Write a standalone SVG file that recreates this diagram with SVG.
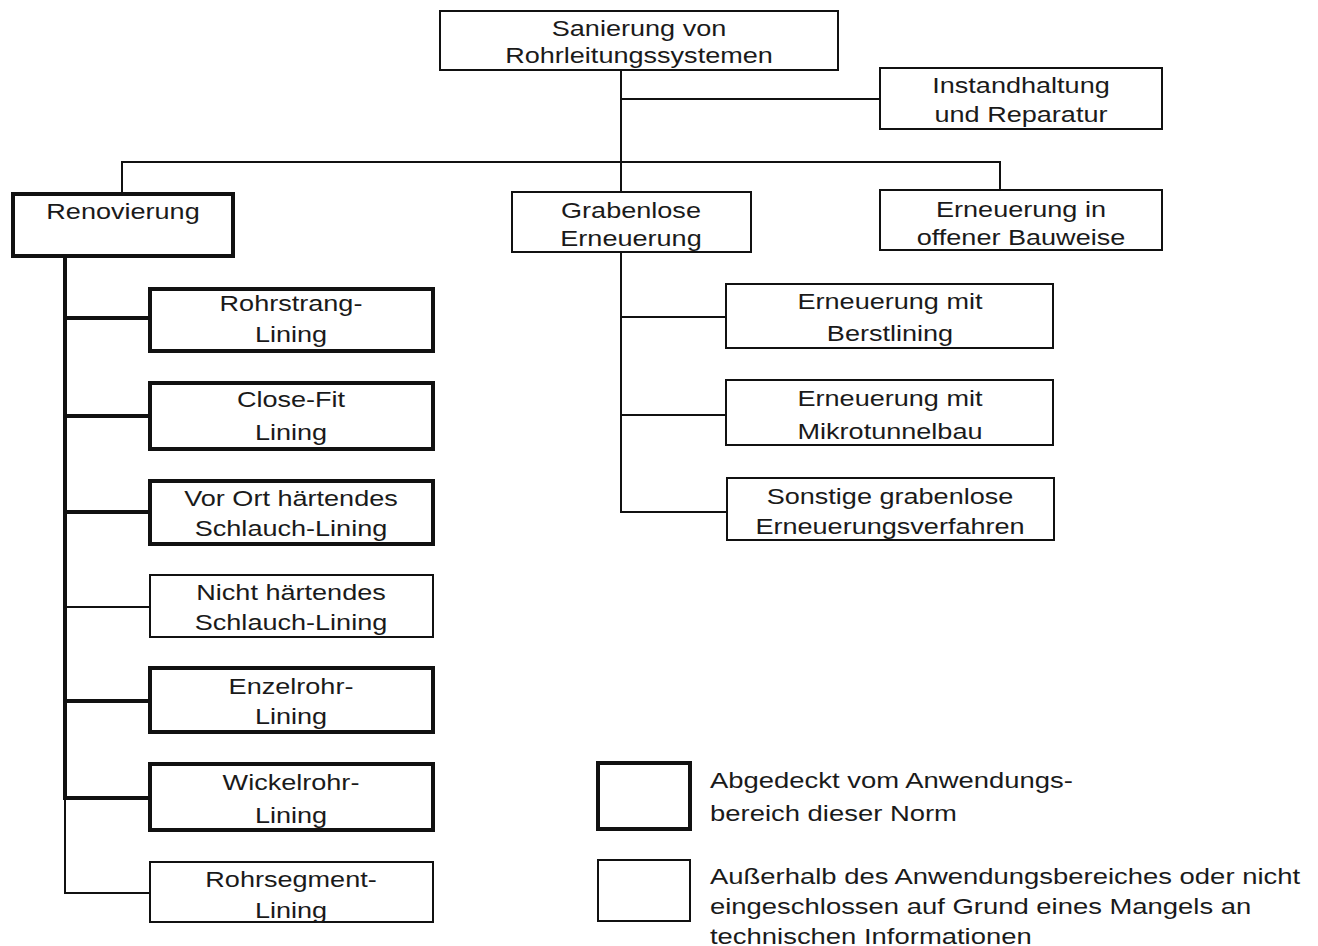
<svg xmlns="http://www.w3.org/2000/svg" width="1318" height="946" viewBox="0 0 1318 946">
<style>
rect{fill:#fff;stroke:#111}
.thin{stroke-width:2}
.thick{stroke-width:4}
text{font-family:"Liberation Sans",Arial,sans-serif;font-size:22px;fill:#1a1a1a;text-anchor:middle}
.l text{text-anchor:start}
line{stroke:#111;stroke-linecap:square}
</style>
<rect x="0" y="0" width="1318" height="946" style="fill:#fff;stroke:none"/>
<g id="connectors">
<line x1="621" y1="70" x2="621" y2="192" class="thin"/>
<line x1="621" y1="99" x2="880" y2="99" class="thin"/>
<line x1="122" y1="162" x2="1000" y2="162" class="thin"/>
<line x1="122" y1="162" x2="122" y2="194" class="thin"/>
<line x1="1000" y1="162" x2="1000" y2="190" class="thin"/>
<line x1="621" y1="252" x2="621" y2="512" class="thin"/>
<line x1="621" y1="317" x2="726" y2="317" class="thin"/>
<line x1="621" y1="415" x2="726" y2="415" class="thin"/>
<line x1="621" y1="512" x2="727" y2="512" class="thin"/>
<line x1="65" y1="256" x2="65" y2="798" class="thick"/>
<line x1="65" y1="798" x2="65" y2="893" class="thin"/>
<line x1="65" y1="318" x2="150" y2="318" class="thick"/>
<line x1="65" y1="416" x2="150" y2="416" class="thick"/>
<line x1="65" y1="512" x2="150" y2="512" class="thick"/>
<line x1="65" y1="607" x2="150" y2="607" class="thin"/>
<line x1="65" y1="701" x2="150" y2="701" class="thick"/>
<line x1="65" y1="798" x2="150" y2="798" class="thick"/>
<line x1="65" y1="893" x2="150" y2="893" class="thin"/>
</g>
<g id="n-sanierung"><rect x="440" y="11" width="398" height="59" class="thin"/><g transform="translate(639,0) scale(1.23,1)"><text x="0" y="36">Sanierung von</text><text x="0" y="63">Rohrleitungssystemen</text></g></g>
<g id="n-instandhaltung"><rect x="880" y="68" width="282" height="61" class="thin"/><g transform="translate(1021,0) scale(1.23,1)"><text x="0" y="93">Instandhaltung</text><text x="0" y="122">und Reparatur</text></g></g>
<g id="n-renovierung"><rect x="13" y="194" width="220" height="62" class="thick"/><g transform="translate(123,0) scale(1.23,1)"><text x="0" y="219">Renovierung</text></g></g>
<g id="n-grabenlose"><rect x="512" y="192" width="239" height="60" class="thin"/><g transform="translate(631,0) scale(1.23,1)"><text x="0" y="218">Grabenlose</text><text x="0" y="246">Erneuerung</text></g></g>
<g id="n-offen"><rect x="880" y="190" width="282" height="60" class="thin"/><g transform="translate(1021,0) scale(1.23,1)"><text x="0" y="217">Erneuerung in</text><text x="0" y="245">offener Bauweise</text></g></g>
<g id="n-berst"><rect x="726" y="284" width="327" height="64" class="thin"/><g transform="translate(890,0) scale(1.23,1)"><text x="0" y="309">Erneuerung mit</text><text x="0" y="341">Berstlining</text></g></g>
<g id="n-mikro"><rect x="726" y="380" width="327" height="65" class="thin"/><g transform="translate(890,0) scale(1.23,1)"><text x="0" y="406">Erneuerung mit</text><text x="0" y="439">Mikrotunnelbau</text></g></g>
<g id="n-sonstige"><rect x="727" y="478" width="327" height="62" class="thin"/><g transform="translate(890,0) scale(1.23,1)"><text x="0" y="504">Sonstige grabenlose</text><text x="0" y="534">Erneuerungsverfahren</text></g></g>
<g id="n-rohrstrang"><rect x="150" y="289" width="283" height="62" class="thick"/><g transform="translate(291,0) scale(1.23,1)"><text x="0" y="311">Rohrstrang-</text><text x="0" y="342">Lining</text></g></g>
<g id="n-closefit"><rect x="150" y="383" width="283" height="66" class="thick"/><g transform="translate(291,0) scale(1.23,1)"><text x="0" y="407">Close-Fit</text><text x="0" y="440">Lining</text></g></g>
<g id="n-vorort"><rect x="150" y="481" width="283" height="63" class="thick"/><g transform="translate(291,0) scale(1.23,1)"><text x="0" y="506">Vor Ort härtendes</text><text x="0" y="536">Schlauch-Lining</text></g></g>
<g id="n-nicht"><rect x="150" y="575" width="283" height="62" class="thin"/><g transform="translate(291,0) scale(1.23,1)"><text x="0" y="600">Nicht härtendes</text><text x="0" y="630">Schlauch-Lining</text></g></g>
<g id="n-enzelrohr"><rect x="150" y="668" width="283" height="64" class="thick"/><g transform="translate(291,0) scale(1.23,1)"><text x="0" y="694">Enzelrohr-</text><text x="0" y="724">Lining</text></g></g>
<g id="n-wickelrohr"><rect x="150" y="764" width="283" height="66" class="thick"/><g transform="translate(291,0) scale(1.23,1)"><text x="0" y="790">Wickelrohr-</text><text x="0" y="823">Lining</text></g></g>
<g id="n-rohrsegment"><rect x="150" y="862" width="283" height="60" class="thin"/><g transform="translate(291,0) scale(1.23,1)"><text x="0" y="887">Rohrsegment-</text><text x="0" y="918">Lining</text></g></g>
<g id="legend">
<rect x="598" y="763" width="92" height="66" class="thick"/>
<rect x="598" y="860" width="92" height="61" class="thin"/>
<g class="l" transform="translate(710,0) scale(1.247,1)">
<text x="0" y="788">Abgedeckt vom Anwendungs-</text>
<text x="0" y="821">bereich dieser Norm</text>
<text x="0" y="884">Außerhalb des Anwendungsbereiches oder nicht</text>
<text x="0" y="914">eingeschlossen auf Grund eines Mangels an</text>
<text x="0" y="944">technischen Informationen</text>
</g>
</g>
</svg>
